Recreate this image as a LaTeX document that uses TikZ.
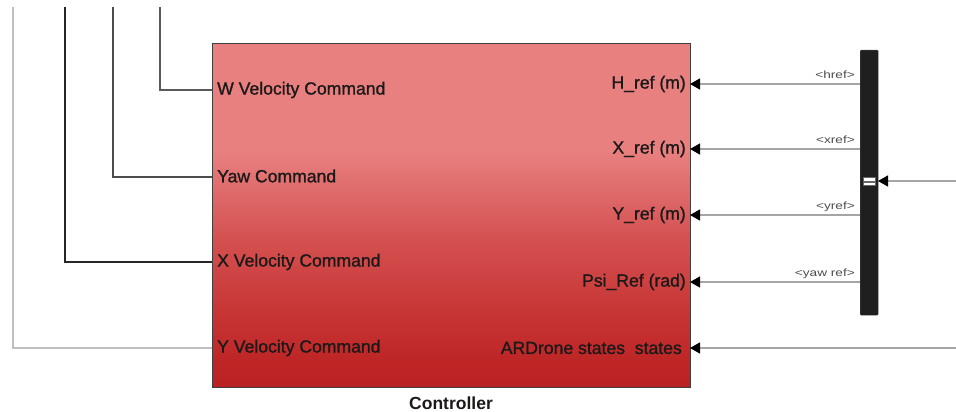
\documentclass[tikz,border=0pt]{standalone}
\usepackage{fontspec}
\setmainfont{Liberation Sans}
\newfontfamily\lblfont[FakeBold=1.2]{Liberation Sans}
\usetikzlibrary{arrows.meta}
\definecolor{rtop}{RGB}{232,128,128}
\definecolor{ra}{RGB}{212,80,80}
\definecolor{rb}{RGB}{198,50,50}
\definecolor{rc}{RGB}{190,38,38}
\definecolor{rbot}{RGB}{185,33,35}
\definecolor{sig}{RGB}{165,165,165}
\definecolor{txt}{RGB}{30,25,25}
\pgfdeclareverticalshading{ctrlshade}{100bp}{color(0bp)=(rbot); color(25bp)=(rbot); color(28.9bp)=(rc); color(34.7bp)=(rb); color(46.4bp)=(ra); color(59.4bp)=(rtop); color(100bp)=(rtop)}
\tikzset{
  sigline/.style={draw=sig, line width=1.3pt},
  sigarrow/.style={sigline, -{Triangle[length=10pt,width=11pt,fill=black,color=black]}},
  inlabel/.style={font=\lblfont\fontsize{17.6}{18}\selectfont, text=txt, inner sep=0pt},
  taglabel/.style={font=\fontsize{10.5}{10}\selectfont, text=black!70, inner sep=0pt, anchor=base east},
}
\begin{document}
\begin{tikzpicture}[x=1pt,y=-1pt]
\useasboundingbox (0,0) rectangle (956,412);
% controller block
\node[draw=black!75, line width=1pt, shading=ctrlshade, minimum width=478pt, minimum height=344pt, anchor=north west, inner sep=0pt] (ctrl) at (212,43) {};
\node[font=\bfseries\fontsize{17.5}{18}\selectfont, text=txt, anchor=base] (clab) at (451,409) {Controller};
% input ports (left)
\coordinate (pW) at (212,90);
\coordinate (pYaw) at (212,177);
\coordinate (pX) at (212,262);
\coordinate (pY) at (212,348);
\node[inlabel, anchor=west] (lW) at (217,90) {W Velocity Command};
\node[inlabel, anchor=west] (lYaw) at (217,176) {Yaw Command};
\node[inlabel, anchor=west] (lX) at (217,262) {X Velocity Command};
\node[inlabel, anchor=west] (lY) at (217,348) {Y Velocity Command};
% right ports
\coordinate (pH) at (690,84);
\coordinate (pXr) at (690,149);
\coordinate (pYr) at (690,215);
\coordinate (pPsi) at (690,282);
\coordinate (pS) at (690,348);
\node[inlabel, anchor=east] (lH) at (686,84) {H\_ref (m)};
\node[inlabel, anchor=east] (lXr) at (686,149) {X\_ref (m)};
\node[inlabel, anchor=east] (lYr) at (686,215) {Y\_ref (m)};
\node[inlabel, anchor=east] (lPsi) at (686,282) {Psi\_Ref (rad)};
\node[inlabel, anchor=east] (lS) at (682,348) {ARDrone states\ \ states};
% left wires
\coordinate (tW) at (160,7);
\coordinate (tYaw) at (113,7);
\coordinate (tX) at (65,7);
\coordinate (tY) at (13,7);
\draw[draw=black!65, line width=1.2pt] (tW) |- (pW);
\draw[draw=black!70, line width=1.2pt] (tYaw) |- (pYaw);
\draw[draw=black!85, line width=1.2pt] (tX) |- (pX);
\draw[draw=black!25, line width=1.2pt] (tY) |- (pY);
% bus selector
\node[fill=black!88, draw=black!70, rounded corners=1pt, minimum width=18pt, minimum height=265pt, anchor=north west, inner sep=0pt] (bus) at (860,50) {};
\node[fill=white, draw=black!60, line width=0.4pt, minimum width=12pt, minimum height=3.5pt, inner sep=0pt] (m1) at (869,179.3) {};
\node[fill=white, draw=black!60, line width=0.4pt, minimum width=12pt, minimum height=3.5pt, inner sep=0pt] (m2) at (869,183.5) {};
\coordinate (bH) at (860,84);
\coordinate (bX) at (860,149);
\coordinate (bY) at (860,215);
\coordinate (bPsi) at (860,282);
\coordinate (busin) at (878,181);
\coordinate (ein) at (956,181);
\coordinate (es) at (956,348);
\draw[sigarrow] (bH) -- (pH);
\draw[sigarrow] (bX) -- (pXr);
\draw[sigarrow] (bY) -- (pYr);
\draw[sigarrow] (bPsi) -- (pPsi);
\draw[sigarrow] (es) -- (pS);
\draw[sigarrow] (ein) -- (busin);
\node[taglabel] (t1) at (855,78) {\scalebox{1.3}[1]{<href>}};
\node[taglabel] (t2) at (855,143) {\scalebox{1.3}[1]{<xref>}};
\node[taglabel] (t3) at (855,209) {\scalebox{1.3}[1]{<yref>}};
\node[taglabel] (t4) at (855,276) {\scalebox{1.3}[1]{<yaw ref>}};
\end{tikzpicture}
\end{document}
